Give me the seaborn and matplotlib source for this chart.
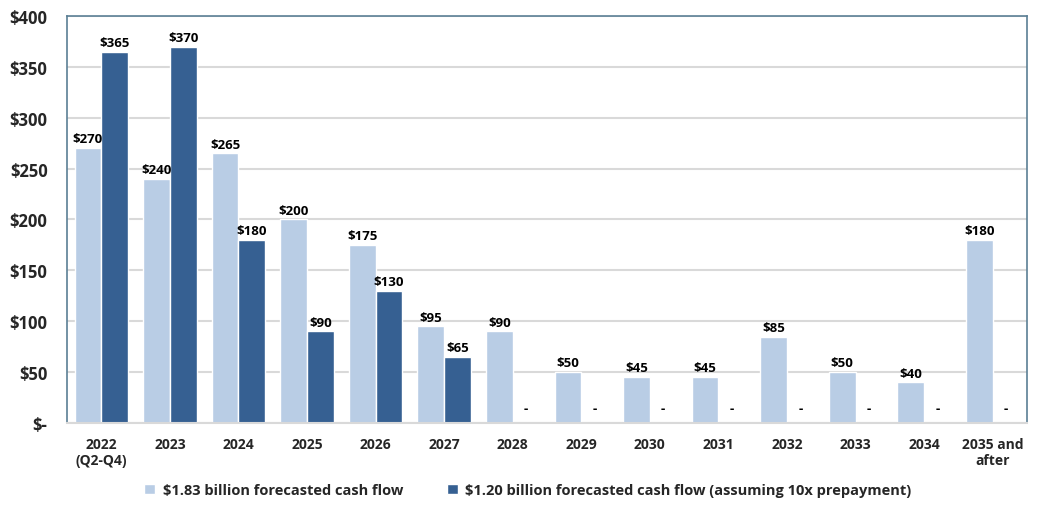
import matplotlib
matplotlib.use("Agg")
import matplotlib.pyplot as plt
import seaborn as sns
import pandas as pd
from matplotlib.ticker import FixedLocator, FuncFormatter

categories = ["2022\n(Q2-Q4)", "2023", "2024", "2025", "2026", "2027", "2028", "2029",
              "2030", "2031", "2032", "2033", "2034", "2035 and\nafter"]
series_a = [270, 240, 265, 200, 175, 95, 90, 50, 45, 45, 85, 50, 40, 180]
series_b = [365, 370, 180, 90, 130, 65, 0, 0, 0, 0, 0, 0, 0, 0]
name_a = "$1.83 billion forecasted cash flow"
name_b = "$1.20 billion forecasted cash flow (assuming 10x prepayment)"
y_ticks = [0, 50, 100, 150, 200, 250, 300, 350, 400]

color_a = "#B9CDE5"
color_b = "#366092"

sns.set_style("white")
plt.rcParams["font.family"] = ["Open Sans", "DejaVu Sans"]
plt.rcParams["font.weight"] = "bold"

df = pd.DataFrame({
    "cat": categories * 2,
    "value": series_a + series_b,
    "series": [name_a] * len(categories) + [name_b] * len(categories),
})

fig = plt.figure(figsize=(10.42, 5.10), dpi=100)
ax = fig.add_axes([0.0643, 0.1686, 0.9213, 0.7981])
sns.barplot(data=df, x="cat", y="value", hue="series", order=categories,
            hue_order=[name_a, name_b], palette=[color_a, color_b],
            saturation=1, width=0.78, edgecolor="white", linewidth=1, ax=ax,
            legend=True, errorbar=None)

ax.set_ylim(0, 400)
ax.set_xlim(-0.5, len(categories) - 0.5)
ax.yaxis.set_major_locator(FixedLocator(y_ticks))
ax.yaxis.set_major_formatter(FuncFormatter(lambda v, p: "$-" if v == 0 else f"${v:.0f}"))
ax.grid(axis="y", color="#D9D9D9", linewidth=1.5)
ax.set_axisbelow(True)
ax.set_xlabel("")
ax.set_ylabel("")
ax.tick_params(axis="y", labelsize=12, pad=14, length=0)
ax.tick_params(axis="x", labelsize=10, pad=10, length=0)
for lab in ax.get_yticklabels() + ax.get_xticklabels():
    lab.set_fontweight("bold")

for side in ["left", "top", "right"]:
    ax.spines[side].set_color("#5B7F95")
    ax.spines[side].set_linewidth(1.2)
ax.spines["bottom"].set_color("#D9D9D9")
ax.spines["bottom"].set_linewidth(1.5)

for cont in ax.containers:
    labels = ["-" if v == 0 else f"${v:.0f}" for v in cont.datavalues]
    ax.bar_label(cont, labels=labels, padding=2, fontsize=9.5,
                 fontweight="bold", color="black")
for t in ax.texts:
    if t.get_text() == "-":
        t.set_y(6)

handles, labels = ax.get_legend_handles_labels()
ax.legend(handles, labels, loc="upper center", bbox_to_anchor=(0.48, -0.115), ncol=2,
          frameon=False, handlelength=0.75, handleheight=0.75,
          handletextpad=0.5, columnspacing=3.0, prop={"weight": "bold", "size": 10.5})

fig.savefig("out.png", dpi=100)
